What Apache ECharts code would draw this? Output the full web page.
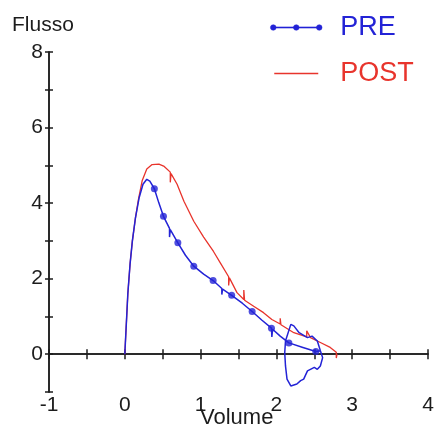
<!DOCTYPE html>
<html>
<head>
<meta charset="utf-8">
<script src="https://cdn.jsdelivr.net/npm/echarts@6/dist/echarts.min.js"></script>
<style>html,body{margin:0;padding:0;background:#fff}#c{width:435px;height:427px}</style>
</head>
<body>
<div id="c"></div>
<script>
// ---- data ----
const xTickValues = [-1, 0, 1, 2, 3, 4];
const yTickValues = [-1, 0, 2, 4, 6, 8];
const seriesNames = ['PRE', 'POST'];

const preX = [0, 0.02, 0.04, 0.07, 0.10, 0.14, 0.19, 0.24, 0.29, 0.33, 0.39, 0.45, 0.51, 0.59, 0.59, 0.60, 0.70, 0.80, 0.91, 1.04, 1.165, 1.28, 1.28, 1.29, 1.41, 1.55, 1.68, 1.81, 1.935, 1.94, 1.95, 2.05, 2.165, 2.35, 2.52,
  2.58, 2.61, 2.58, 2.54, 2.50, 2.41, 2.36, 2.32, 2.27, 2.19, 2.14, 2.12, 2.11, 2.12, 2.19, 2.23, 2.30, 2.41, 2.47, 2.54, 2.58];
const preY = [0, 0.8, 1.6, 2.4, 3.0, 3.6, 4.15, 4.5, 4.63, 4.58, 4.38, 4.0, 3.65, 3.33, 3.10, 3.30, 2.95, 2.62, 2.33, 2.12, 1.95, 1.74, 1.58, 1.72, 1.56, 1.35, 1.13, 0.90, 0.69, 0.46, 0.66, 0.48, 0.30, 0.18, 0.07,
  0.09, -0.09, -0.31, -0.40, -0.35, -0.44, -0.66, -0.70, -0.79, -0.84, -0.66, -0.31, 0.04, 0.35, 0.79, 0.75, 0.57, 0.44, 0.48, 0.35, 0.09];
const preMarkerIdx = [10, 12, 16, 18, 20, 24, 26, 28, 32, 34];

const postX = [0, 0.02, 0.04, 0.07, 0.10, 0.14, 0.18, 0.23, 0.29, 0.36, 0.45, 0.52, 0.60, 0.60, 0.61, 0.69, 0.78, 0.91, 1.04, 1.17, 1.26, 1.37, 1.37, 1.38, 1.48, 1.57, 1.57, 1.58, 1.70, 1.83, 1.94, 2.05, 2.05, 2.06, 2.23, 2.40, 2.40, 2.45, 2.58, 2.71, 2.79, 2.79, 2.80];
const postY = [0, 0.8, 1.6, 2.4, 3.0, 3.6, 4.1, 4.6, 4.9, 5.02, 5.03, 4.97, 4.82, 4.55, 4.78, 4.50, 4.05, 3.52, 3.10, 2.72, 2.42, 2.05, 1.82, 2.02, 1.63, 1.45, 1.70, 1.43, 1.27, 1.10, 0.92, 0.80, 0.95, 0.78, 0.57, 0.46, 0.62, 0.44, 0.31, 0.18, 0.05, -0.10, 0.0];

// ---- colours ----
const BLUE = '#2323d6';
const RED = '#e8342c';
const INK = '#1c1c1c';

const prePairs = preX.map((x, i) => [x, preY[i]]);
const postPairs = postX.map((x, i) => [x, postY[i]]);
const preMarkers = preMarkerIdx.map(i => [preX[i], preY[i]]);

const FONT = 'Liberation Sans, Arial, sans-serif';
const chart = echarts.init(document.getElementById('c'), null, {renderer: 'canvas'});

const baseX = {type: 'value', min: -1, max: 4, interval: 0.5, gridIndex: 0,
  splitLine: {show: false}, axisLabel: {show: false}};
const baseY = {type: 'value', min: -1, max: 8, interval: 1, gridIndex: 0,
  splitLine: {show: false}};

const preIcon = 'path://M-3,0M49,8M0,3.4H46V4.6H0Z' +
  'M-2.8,4A2.8,2.8 0 1,1 2.8,4A2.8,2.8 0 1,1 -2.8,4Z' +
  'M20.2,4A2.8,2.8 0 1,1 25.8,4A2.8,2.8 0 1,1 20.2,4Z' +
  'M43.2,4A2.8,2.8 0 1,1 48.8,4A2.8,2.8 0 1,1 43.2,4Z';
const postIcon = 'path://M-3,0M49,8M1,3.35H45V4.65H1Z';

chart.setOption({
  animation: false,
  backgroundColor: '#fff',
  grid: {left: 49, right: 7, top: 52, bottom: 35, containLabel: false, outerBoundsMode: 'none'},
  legend: {
    orient: 'vertical', left: 265, top: 9, itemWidth: 52, itemHeight: 8, itemGap: 19,
    selectedMode: false,
    textStyle: {fontFamily: FONT, fontSize: 27, lineHeight: 27, padding: [0, 0, 0, 13]},
    data: [
      {name: seriesNames[0], icon: preIcon, textStyle: {color: BLUE},
        itemStyle: {color: BLUE, borderColor: BLUE, borderWidth: 0.5, opacity: 1}},
      {name: seriesNames[1], icon: postIcon, textStyle: {color: RED},
        itemStyle: {color: RED, borderColor: RED, borderWidth: 0}}
    ]
  },
  xAxis: [
    Object.assign({}, baseX, {position: 'bottom',
      axisLine: {show: true, onZero: true, lineStyle: {color: INK, width: 1.5}},
      axisTick: {show: true, inside: false, length: 5, lineStyle: {color: INK, width: 1.5}}}),
    Object.assign({}, baseX, {position: 'bottom',
      axisLine: {show: true, onZero: true, lineStyle: {color: INK, width: 1.5}},
      axisTick: {show: true, inside: true, length: 5, lineStyle: {color: INK, width: 1.5}}}),
    {type: 'value', min: -1, max: 4, interval: 1, position: 'bottom', gridIndex: 0,
      splitLine: {show: false},
      axisLine: {show: false, onZero: false}, axisTick: {show: false},
      axisLabel: {show: true, margin: 3, color: INK, fontFamily: FONT, fontSize: 21,
        formatter: v => (xTickValues.indexOf(v) >= 0 ? String(v) : '')}}
  ],
  yAxis: [
    Object.assign({}, baseY, {position: 'left',
      axisLine: {show: true, onZero: false, lineStyle: {color: INK, width: 1.5}},
      axisTick: {show: true, inside: false, length: 4, lineStyle: {color: INK, width: 1.5}},
      axisLabel: {show: true, margin: 6, color: INK, fontFamily: FONT, fontSize: 21,
        formatter: v => (yTickValues.indexOf(v) >= 0 && v !== -1 ? String(v) : '')}}),
    Object.assign({}, baseY, {position: 'left',
      axisLine: {show: true, onZero: false, lineStyle: {color: INK, width: 1.5}},
      axisTick: {show: true, inside: true, length: 4, lineStyle: {color: INK, width: 1.5}},
      axisLabel: {show: false}})
  ],
  graphic: [
    {type: 'text', left: 12, top: 15, style: {text: 'Flusso', fill: INK, font: '21px ' + FONT}},
    {type: 'text', left: 200, top: 407, style: {text: 'Volume', fill: INK, font: '22px ' + FONT}}
  ],
  series: [
    {name: seriesNames[0], type: 'scatter', data: preMarkers, xAxisIndex: 0, yAxisIndex: 0,
      symbol: 'circle', symbolSize: 7, z: 4, itemStyle: {color: BLUE}},
    {name: seriesNames[1], type: 'line', data: postPairs, xAxisIndex: 0, yAxisIndex: 0,
      showSymbol: false, symbol: 'none', smooth: false, z: 2,
      lineStyle: {color: RED, width: 1.3}, itemStyle: {color: RED}},
    {name: seriesNames[0], type: 'line', data: prePairs, xAxisIndex: 0, yAxisIndex: 0,
      showSymbol: false, symbol: 'none', smooth: false, z: 3,
      lineStyle: {color: BLUE, width: 1.5}, itemStyle: {color: BLUE}}
  ]
});
</script>
</body>
</html>
